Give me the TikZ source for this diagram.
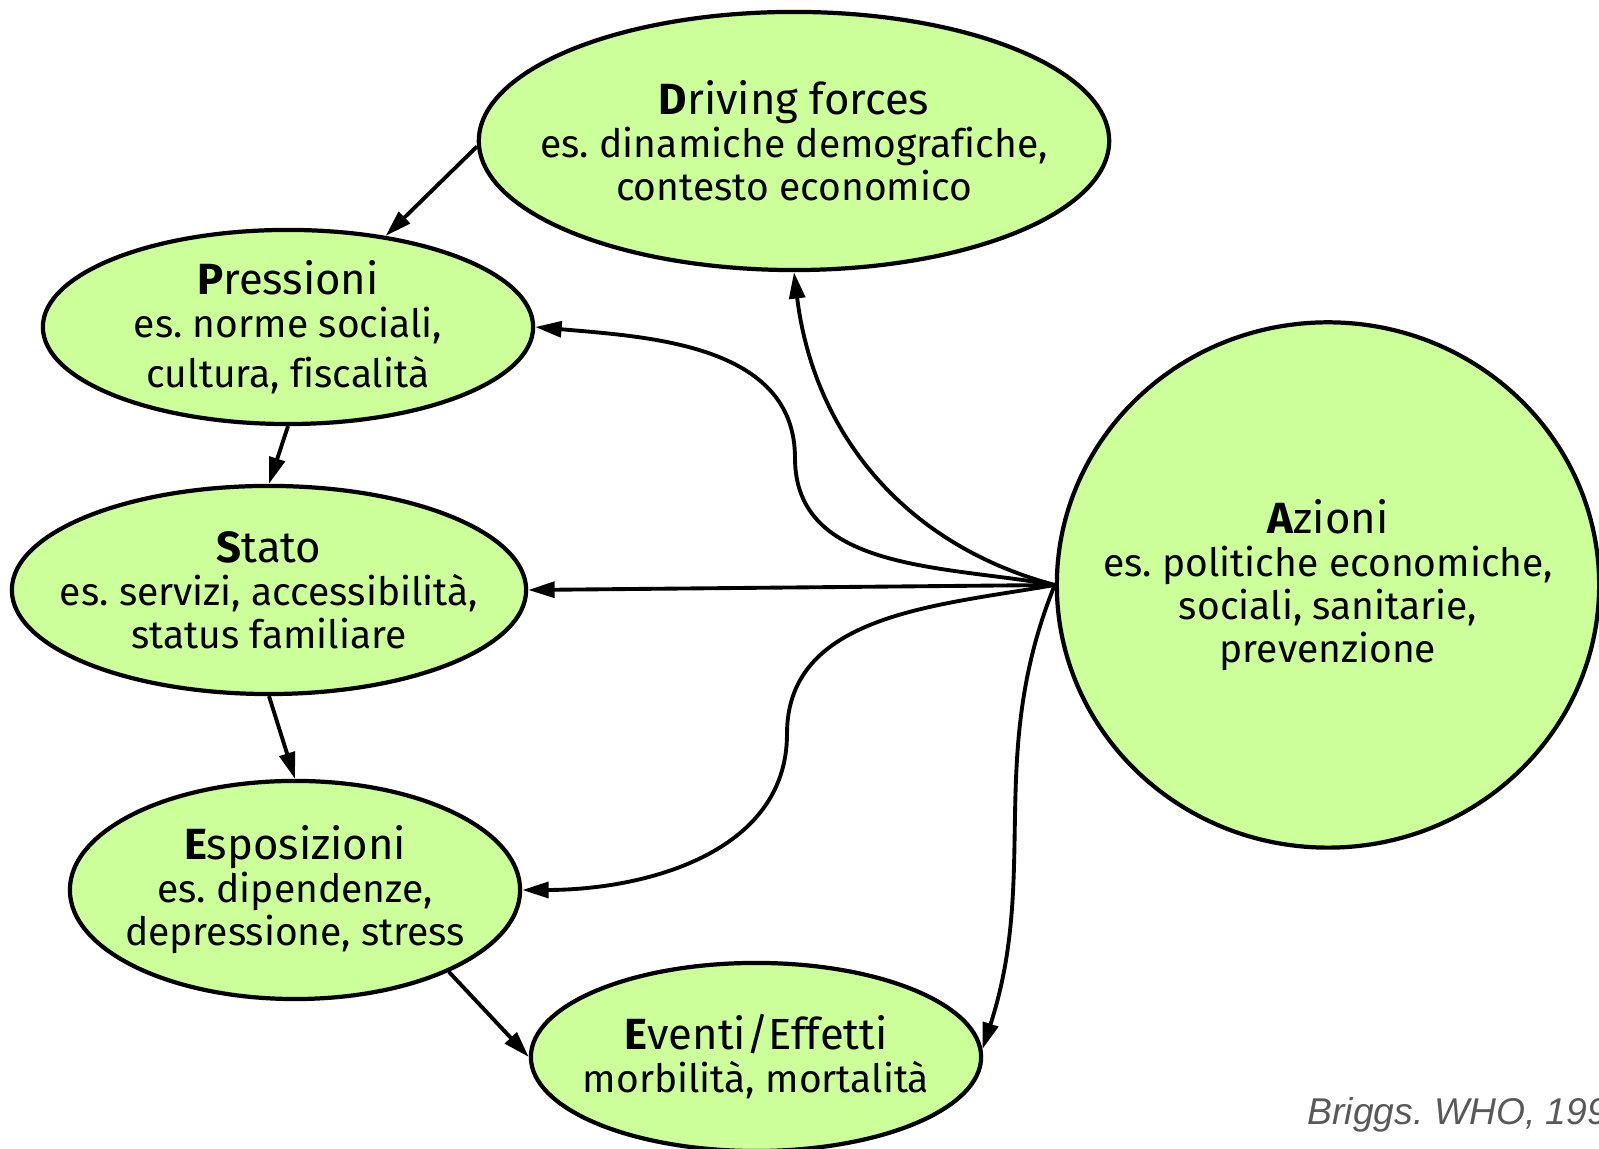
\documentclass[tikz,border=0pt]{standalone}
\usepackage{fontspec}
\setmainfont{Fira Sans}[Ligatures=NoCommon]
\newfontfamily\citefont{Liberation Sans}
\usetikzlibrary{arrows.meta,shapes.geometric}
\frenchspacing

\definecolor{leaf}{HTML}{CCFF99}
\definecolor{citegray}{HTML}{595959}

\newcommand{\head}[1]{{\fontsize{12.4}{12.2}\selectfont #1}}

\tikzset{
  blob/.style 2 args={ellipse, draw, line width=1.2pt, fill=leaf, inner sep=0pt,
    minimum width=#1cm, minimum height=#2cm},
  txt/.style={align=center, font=\fontsize{11.1}{12.2}\selectfont},
  arr/.style={-{Triangle[length=7.5pt,width=4.5pt]}, line width=1.1pt},
}

\begin{document}
\begin{tikzpicture}[x=0.01cm, y=0.01cm]
\useasboundingbox (0,0) rectangle (1599,1149);
% the five stages of the chain and the actions
\node[blob={6.3}{2.58}, label={[txt]center:{\head{\textbf{D}riving forces}\\es. dinamiche demografiche,\\contesto economico}}] (df) at (794,1008) {};
\node[blob={4.9}{1.94}, label={[txt]center:{\head{\textbf{P}ressioni}\\es. norme sociali,\\[2pt]cultura, fiscalit\`a}}] (pr) at (288,822) {};
\node[blob={5.14}{2.08}, label={[txt]center:{\head{\textbf{S}tato}\\es. servizi, accessibilit\`a,\\status familiare}}] (st) at (269,559) {};
\node[blob={4.5}{2.18}, label={[txt]center:{\head{\textbf{E}sposizioni}\\es. dipendenze,\\depressione, stress}}] (es) at (295,259) {};
\node[blob={4.5}{1.88}, label={[txt]center:{\head{\textbf{E}venti/Effetti}\\morbilit\`a, mortalit\`a}}] (ev) at (756,92) {};
\node[blob={5.42}{5.25}, label={[txt]center:{\head{\textbf{A}zioni}\\es. politiche economiche,\\sociali, sanitarie,\\prevenzione}}] (az) at (1328,564) {};

% chain
\draw[arr] (df.181) -- (pr.43);
\draw[arr] (pr.south) -- (st.north);
\draw[arr] (st.south) -- (es.north);
\draw[arr] (es.-28) -- (ev.west);

% actions on every stage
\coordinate (up) at (795,691);
\coordinate (dn) at (787,415);
\draw[arr] (az.west) to[out=165,in=-83] (df.south);
\draw[arr] (az.west) to[out=170,in=-90] (up) to[out=90,in=-5] (pr.east);
\draw[arr] (az.west) -- (st.east);
\draw[arr] (az.west) to[out=190,in=90] (dn) to[out=-90,in=0] (es.east);
\draw[arr] (az.west) to[out=-112,in=72] (ev.2);

\node[anchor=base west, text=citegray, font=\citefont\itshape\fontsize{10.6}{12}\selectfont, inner sep=0pt] (src) at (1307,24) {Briggs. WHO, 1999};
\end{tikzpicture}
\end{document}
